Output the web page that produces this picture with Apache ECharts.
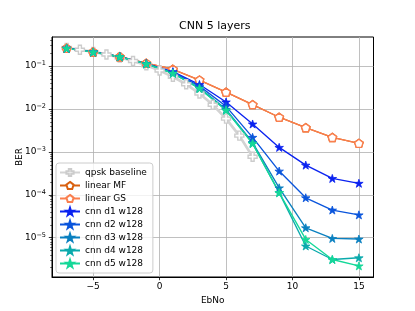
<!DOCTYPE html>
<html><head><meta charset="utf-8">
<script src="https://cdn.jsdelivr.net/npm/echarts@6/dist/echarts.min.js"></script>
<style>html,body{margin:0;padding:0;background:#fff}#c{width:415px;height:311px}</style>
</head><body><div id="c"></div>
<script>
const ebnoBase = [-7,-6,-5,-4,-3,-2,-1,0,1,2,3,4,5,6,7];
const qpskBaseline = [0.264,0.239,0.213,0.186,0.158,0.131,0.104,0.0786,0.0563,0.0375,0.0229,0.0125,0.00595,0.00239,0.00077];
const ebno = [-7,-5,-3,-1,1,3,5,7,9,11,13,15];
const linearMF = [0.259,0.212,0.165,0.116,0.084,0.047,0.0245,0.0126,0.0064,0.00365,0.00217,0.00158];
const linearGS = [0.259,0.212,0.165,0.116,0.084,0.047,0.0245,0.0126,0.0064,0.00365,0.00217,0.00158];
const cnnD1 = [0.259,0.212,0.165,0.114,0.074,0.037,0.0145,0.00445,0.00127,0.00049,0.00024,0.000185];
const cnnD2 = [0.259,0.212,0.165,0.113,0.071,0.034,0.0115,0.00218,0.000356,0.000085,0.000044,0.000034];
const cnnD3 = [0.258,0.211,0.164,0.112,0.068,0.031,0.0098,0.00165,0.000145,0.000017,0.0000096,0.0000093];
const cnnD4 = [0.258,0.211,0.164,0.112,0.068,0.030,0.0094,0.00158,0.000112,0.0000064,0.0000031,0.0000034];
const cnnD5 = [0.258,0.211,0.164,0.112,0.067,0.030,0.0093,0.00155,0.000112,0.0000091,0.0000031,0.0000022];
const xTicks = [-5,0,5,10,15];
const yTicks = [1e-5,1e-4,1e-3,1e-2,1e-1];
const yMinor = [];
[-6,-5,-4,-3,-2,-1].forEach(e=>{for(let m=2;m<=9;m++){yMinor.push(m*Math.pow(10,e));}});

const STAR='path://M0,-10 L2.245,-3.09 L9.511,-3.09 L3.633,1.18 L5.878,8.09 L0,3.82 L-5.878,8.09 L-3.633,1.18 L-9.511,-3.09 L-2.245,-3.09 Z';
const PENT='path://M0,-10 L9.511,-3.09 L5.878,8.09 L-5.878,8.09 L-9.511,-3.09 Z';
const PLUS='path://M-1,-3 L1,-3 L1,-1 L3,-1 L3,1 L1,1 L1,3 L-1,3 L-1,1 L-3,1 L-3,-1 L-1,-1 Z';
const FONT='DejaVu Sans';
const YMIN=1.213e-6, YMAX=0.474;

function pair(xs,ys){return xs.map((x,i)=>[x,ys[i]]);}
function starSeries(name,ys,c){
  return {name,type:'line',data:pair(ebno,ys),symbol:STAR,symbolSize:8.5,symbolKeepAspect:true,
    lineStyle:{color:c,width:1.35},itemStyle:{color:c,borderColor:c,borderWidth:0.8},emphasis:{disabled:true},animation:false};
}
function pentSeries(name,ys,c){
  return {name,type:'line',data:pair(ebno,ys),symbol:PENT,symbolSize:8.5,symbolKeepAspect:true,
    lineStyle:{color:c,width:1.35},itemStyle:{color:'#fff',borderColor:c,borderWidth:1.4},emphasis:{disabled:true},animation:false};
}
const minus = v => String(v).replace('-','\u2212');
const chart = echarts.init(document.getElementById('c'),null,{renderer:'canvas'});
chart.setOption({
  animation:false,
  textStyle:{fontFamily:FONT},
  title:{text:'CNN 5 layers',left:179,top:21,padding:0,textStyle:{fontFamily:FONT,fontSize:11,fontWeight:'normal',color:'#000'}},
  grid:{left:52,right:41.5,top:37,bottom:34,show:true,borderColor:'#000',borderWidth:1,backgroundColor:'transparent'},
  legend:{orient:'vertical',left:56,top:163,padding:[4,6,4,3],itemWidth:20,itemHeight:9,itemGap:2,
    backgroundColor:'rgba(255,255,255,0.8)',borderColor:'#cccccc',borderWidth:1,borderRadius:3,
    textStyle:{fontFamily:FONT,fontSize:9,color:'#000',lineHeight:11},
    data:['qpsk baseline','linear MF','linear GS','cnn d1 w128','cnn d2 w128','cnn d3 w128','cnn d4 w128','cnn d5 w128']},
  xAxis:{type:'value',min:-8.1,max:16.1,name:'EbNo',nameLocation:'middle',nameGap:19,nameMoveOverlap:false,
    nameTextStyle:{fontFamily:FONT,fontSize:9,color:'#000'},
    axisLine:{show:true,onZero:false,lineStyle:{color:'#000',width:1}},
    axisTick:{show:true,inside:false,length:3.2,customValues:xTicks,lineStyle:{color:'#000',width:0.8}},
    axisLabel:{customValues:xTicks,margin:5,fontFamily:FONT,fontSize:9,color:'#000',formatter:v=>minus(v)},
    splitLine:{show:true,lineStyle:{color:'#b0b0b0',width:0.8}}},
  yAxis:[{type:'log',logBase:10,min:YMIN,max:YMAX,name:'BER',nameLocation:'middle',nameGap:28,nameRotate:90,nameMoveOverlap:false,
    nameTextStyle:{fontFamily:FONT,fontSize:9,color:'#000'},
    axisLine:{show:true,onZero:false,lineStyle:{color:'#000',width:1}},
    axisTick:{show:true,inside:false,length:3.2,customValues:yTicks,lineStyle:{color:'#000',width:0.8}},
    axisLabel:{customValues:yTicks,margin:6,fontFamily:FONT,fontSize:9,color:'#000',
      formatter:v=>'10{s|\u2212'+Math.round(-Math.log10(v))+'}',
      rich:{s:{fontSize:6.5,fontFamily:FONT,color:'#000',verticalAlign:'top',padding:[0,0,5,0]}}},
    splitLine:{show:true,lineStyle:{color:'#b0b0b0',width:0.8}}},
   {type:'log',logBase:10,min:YMIN,max:YMAX,position:'left',
    axisLine:{show:false,onZero:false},axisLabel:{show:false},splitLine:{show:false},
    axisTick:{show:true,inside:false,length:1.8,customValues:yMinor,lineStyle:{color:'#000',width:0.6}}}],
  series:[
    {name:'qpsk baseline',type:'line',data:pair(ebnoBase,qpskBaseline),symbol:PLUS,symbolSize:9,symbolKeepAspect:true,
      lineStyle:{color:'#d3d3d3',width:2.7},itemStyle:{color:'#fff',borderColor:'#cccccc',borderWidth:1.4},emphasis:{disabled:true}},
    pentSeries('linear MF',linearMF,'#d9600f'),
    pentSeries('linear GS',linearGS,'#fa7f4e'),
    starSeries('cnn d1 w128',cnnD1,'#0a22f0'),
    starSeries('cnn d2 w128',cnnD2,'#0a55dc'),
    starSeries('cnn d3 w128',cnnD3,'#0a80c0'),
    starSeries('cnn d4 w128',cnnD4,'#0aaaac'),
    starSeries('cnn d5 w128',cnnD5,'#14d898')
  ]
});
</script></body></html>
